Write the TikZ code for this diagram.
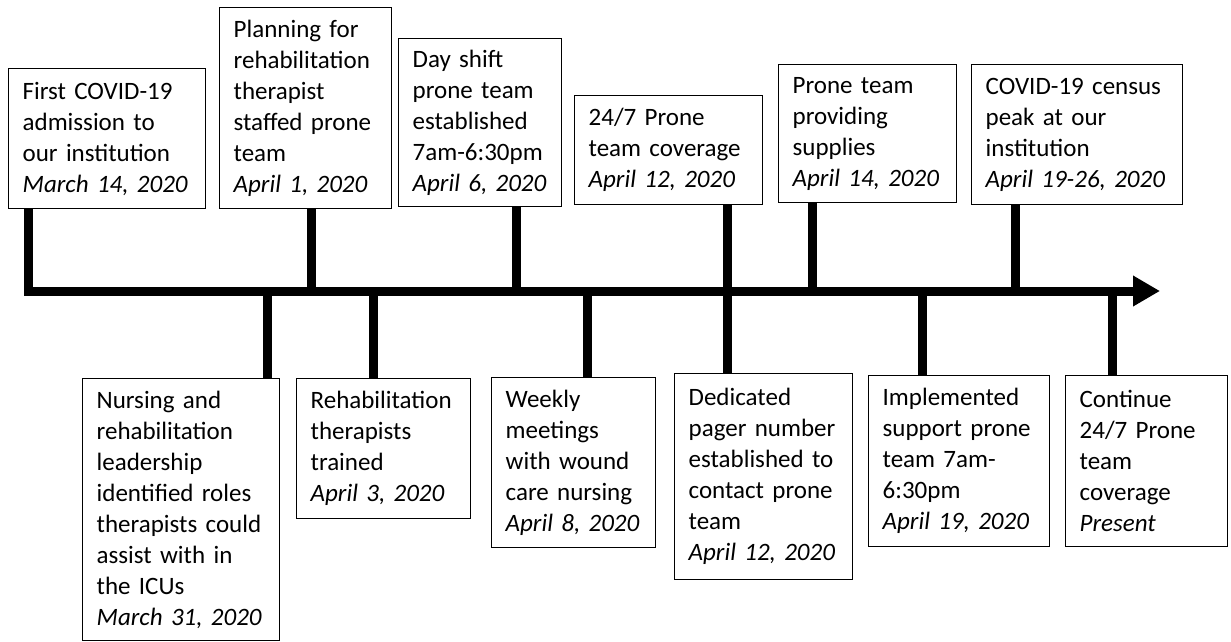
\documentclass[tikz,border=0pt]{standalone}
\usepackage{fontspec}
\setmainfont{Carlito}[WordSpace=0.8]
\usetikzlibrary{arrows.meta}
\frenchspacing

\begin{document}
\begin{tikzpicture}[x=1pt,y=-1pt,every node/.style={draw,line width=1.3pt,
  anchor=north west,align=left,inner xsep=14pt,inner ysep=0pt,
  font=\fontsize{25}{31}\selectfont},stemline/.style={line width=9pt}]
  \useasboundingbox (0,0) rectangle (1231,641);
  \node[text width=169pt,minimum height=140pt] (t1) at (8,68)
    {First COVID-19\\admission to\\our institution\\\textit{March 14, 2020}};
  \node[text width=144pt,minimum height=201pt] (t2) at (219,7)
    {Planning for\\rehabilitation\\therapist\\staffed prone\\team\\\textit{April 1, 2020}};
  \node[text width=135pt,minimum height=168pt] (t3) at (398,38)
    {Day shift\\prone team\\established\\7am-6:30pm\\\textit{April 6, 2020}};
  \node[text width=160pt,minimum height=109pt] (t4) at (574,95)
    {24/7 Prone\\team coverage\\\textit{April 12, 2020}};
  \node[text width=150pt,minimum height=138pt] (t5) at (778,64)
    {Prone team\\providing\\supplies\\\textit{April 14, 2020}};
  \node[text width=183pt,minimum height=140pt] (t6) at (971,64)
    {COVID-19 census\\peak at our\\institution\\\textit{April 19-26, 2020}};
  \node[text width=169pt,minimum height=262pt] (b1) at (82,378)
    {Nursing and\\rehabilitation\\leadership\\identified roles\\therapists could\\assist with in\\the ICUs\\\textit{March 31, 2020}};
  \node[text width=146pt,minimum height=140pt] (b2) at (296,378)
    {Rehabilitation\\therapists\\trained\\\textit{April 3, 2020}};
  \node[text width=136pt,minimum height=170pt] (b3) at (491,377)
    {Weekly\\meetings\\with wound\\care nursing\\\textit{April 8, 2020}};
  \node[text width=150pt,minimum height=206pt] (b4) at (674,373)
    {Dedicated\\pager number\\established to\\contact prone\\team\\\textit{April 12, 2020}};
  \node[text width=153pt,minimum height=171pt] (b5) at (868,375)
    {Implemented\\support prone\\team 7am-\\6:30pm\\\textit{April 19, 2020}};
  \node[text width=134pt,minimum height=171pt] (b6) at (1065,375)
    {Continue\\24/7 Prone\\team\\coverage\\\textit{Present}};
  \coordinate (c0) at (28,291);
  \draw[stemline,line join=miter,-{Triangle[length=27pt,width=29pt]}]
    (t1.south -| c0) -- (c0) -- (1160,291);
  \foreach \n/\x in {t2/311,t3/516,t4/727,t5/812,t6/1015}
    {\coordinate (s\n) at (\x,291); \draw[stemline] (\n.south -| s\n) -- (s\n);}
  \foreach \n/\x in {b1/267,b2/373,b3/587,b4/727,b5/922,b6/1112}
    {\coordinate (s\n) at (\x,291); \draw[stemline] (s\n) -- (\n.north -| s\n);}
\end{tikzpicture}
\end{document}
